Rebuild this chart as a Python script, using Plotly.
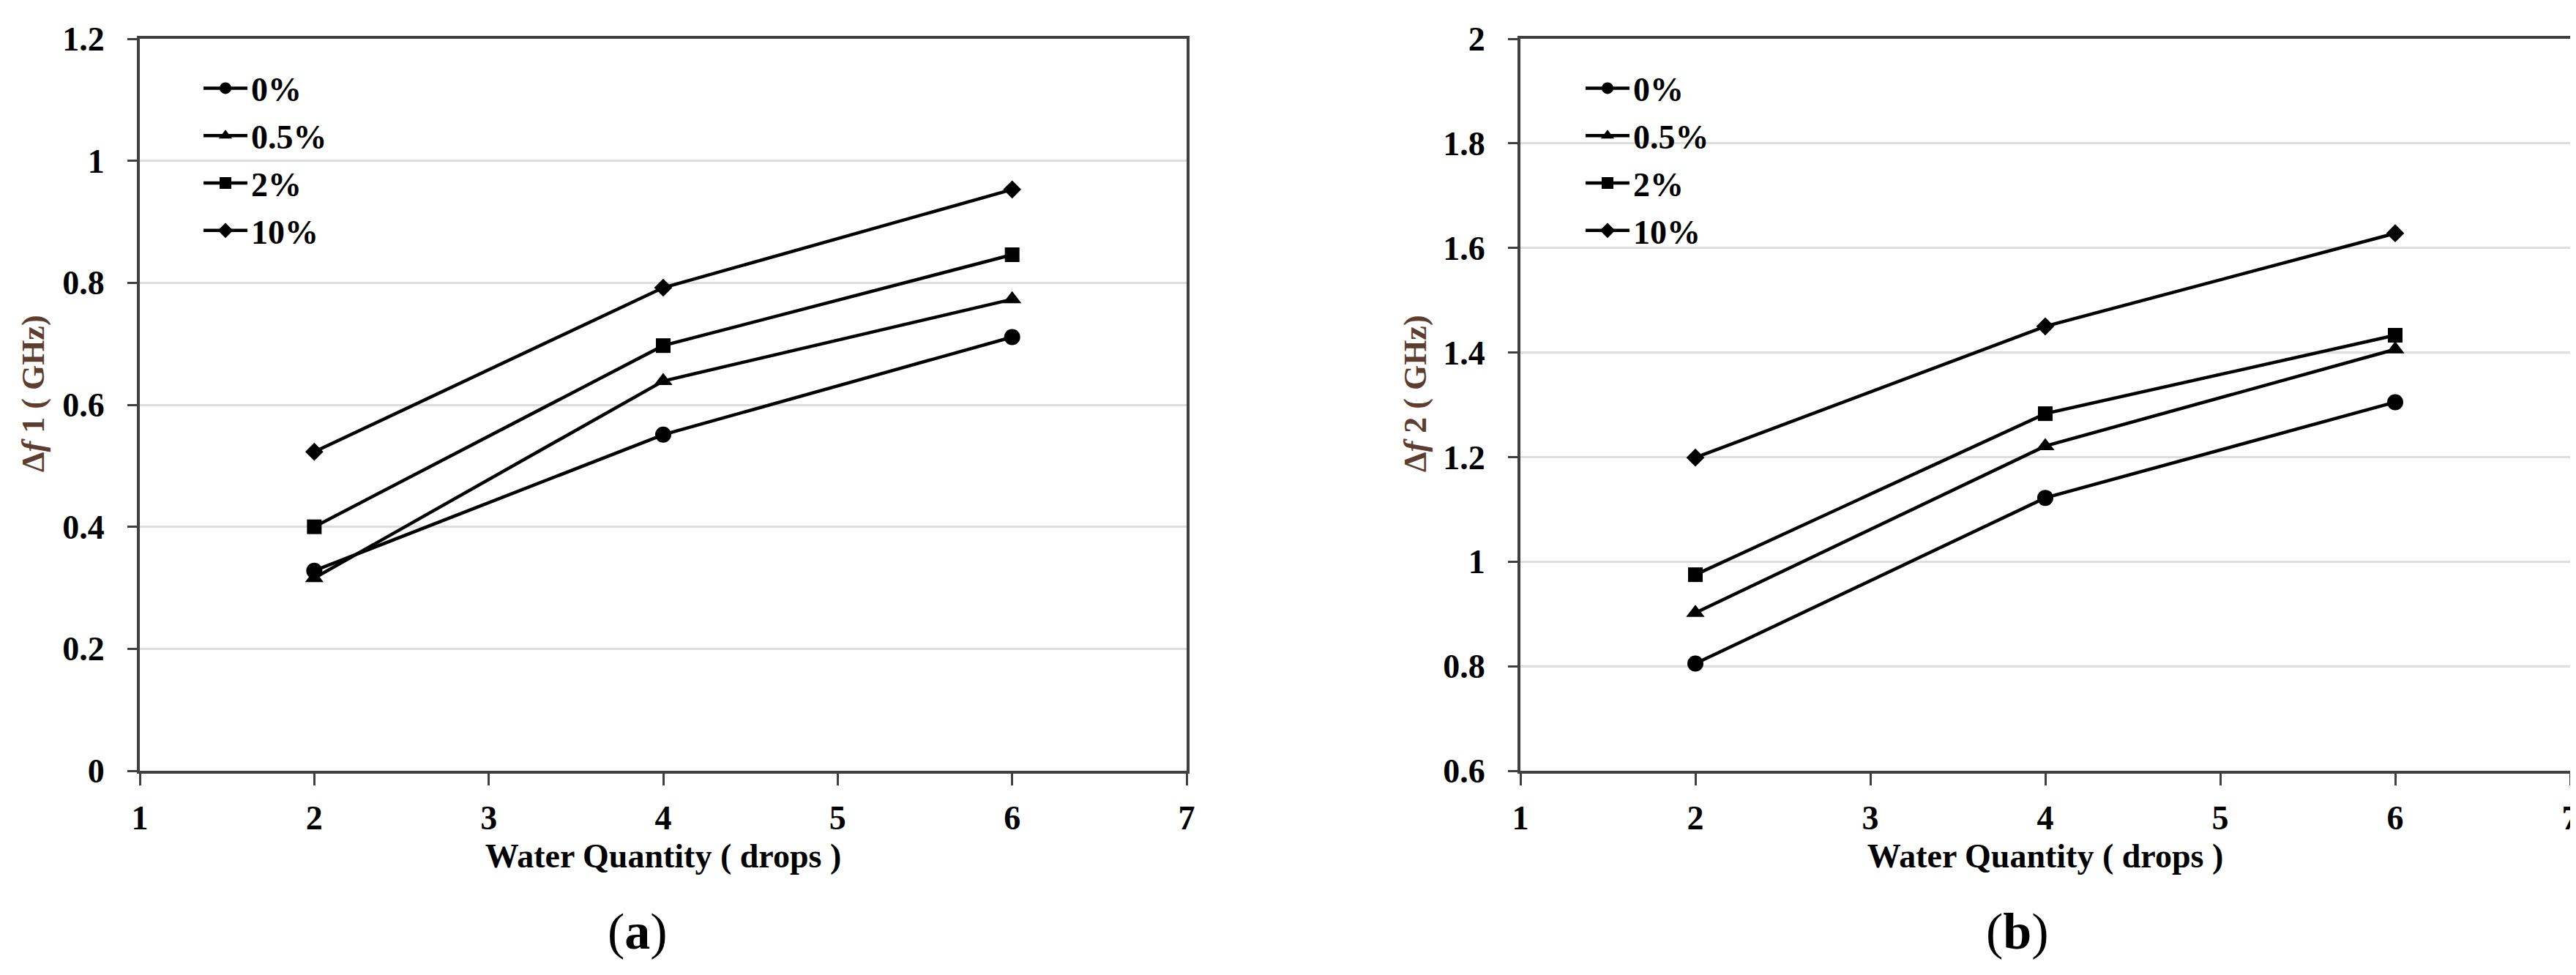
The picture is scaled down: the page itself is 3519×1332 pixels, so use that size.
import plotly.graph_objects as go

# ---------------- data ----------------
drops = [2, 4, 6]
series_names = ["0%", "0.5%", "2%", "10%"]
series_symbols = ["circle", "triangle-up", "square", "diamond"]
series_sizes = [22, 22, 20, 19]

df1_0 = [0.328, 0.551, 0.711]
df1_05 = [0.316, 0.639, 0.773]
df1_2 = [0.400, 0.697, 0.846]
df1_10 = [0.523, 0.792, 0.953]

df2_0 = [0.805, 1.122, 1.305]
df2_05 = [0.902, 1.221, 1.406]
df2_2 = [0.975, 1.283, 1.433]
df2_10 = [1.199, 1.450, 1.628]

x_ticks = [1, 2, 3, 4, 5, 6, 7]
y1_ticks = [0, 0.2, 0.4, 0.6, 0.8, 1, 1.2]
y2_ticks = [0.6, 0.8, 1, 1.2, 1.4, 1.6, 1.8, 2]

panel_a = [df1_0, df1_05, df1_2, df1_10]
panel_b = [df2_0, df2_05, df2_2, df2_10]

W, H = 3519, 1332
FONT = "Liberation Serif"
AX = "#404040"

fig = go.Figure()

for i, (name, sym, sz) in enumerate(zip(series_names, series_symbols, series_sizes)):
    fig.add_trace(go.Scatter(
        x=drops, y=panel_a[i], name=name, mode="lines+markers",
        line=dict(color="black", width=4.5),
        marker=dict(symbol=sym, size=sz, color="black"),
        xaxis="x", yaxis="y", legend="legend", legendgroup=f"a{i}",
    ))
for i, (name, sym, sz) in enumerate(zip(series_names, series_symbols, series_sizes)):
    fig.add_trace(go.Scatter(
        x=drops, y=panel_b[i], name=name, mode="lines+markers",
        line=dict(color="black", width=4.5),
        marker=dict(symbol=sym, size=sz, color="black"),
        xaxis="x2", yaxis="y2", legend="legend2", legendgroup=f"b{i}",
    ))

tickfont = dict(family=FONT, size=46, color="black", weight="bold")
titlefont = dict(family=FONT, size=46, color="black", weight="bold")

def xaxis(domain, anchor):
    return dict(
        domain=domain, anchor=anchor, range=[1, 7], tickvals=x_ticks,
        ticks="outside", ticklen=16, tickwidth=3, tickcolor=AX,
        showline=True, linecolor=AX, linewidth=4, mirror=True,
        showgrid=False, zeroline=False, tickfont=tickfont,
        ticklabelstandoff=5, automargin=False,
        title=dict(text="Water Quantity ( drops )", font=titlefont, standoff=12),
    )

def yaxis(domain, anchor, rng, tv):
    return dict(
        domain=domain, anchor=anchor, range=rng, tickvals=tv,
        ticks="outside", ticklen=13, tickwidth=3, tickcolor=AX,
        showline=True, linecolor=AX, linewidth=4, mirror=True,
        showgrid=True, gridcolor="#dedede", gridwidth=3, zeroline=False,
        tickfont=tickfont, ticklabelstandoff=22, automargin=False,
    )

ydom = [1 - 1045 / H, 1 - 45 / H]
xdom1 = [183 / W, 1613 / W]
xdom2 = [2069 / W, 3503 / W]

legend_common = dict(
    xanchor="left", yanchor="top", bgcolor="rgba(0,0,0,0)",
    font=dict(family=FONT, size=46, color="black", weight="bold"),
    itemwidth=60, tracegroupgap=2, borderwidth=0,
)

fig.update_layout(
    width=W, height=H, margin=dict(l=0, r=0, t=0, b=0, autoexpand=False),
    paper_bgcolor="white", plot_bgcolor="white",
    showlegend=True,
    xaxis=xaxis(xdom1, "y"),
    yaxis=yaxis(ydom, "x", [0, 1.2], y1_ticks),
    xaxis2=xaxis(xdom2, "y2"),
    yaxis2=yaxis(ydom, "x2", [0.6, 2], y2_ticks),
    legend=dict(x=265 / W, y=1 - 76 / H, **legend_common),
    legend2=dict(x=2153 / W, y=1 - 76 / H, **legend_common),
    annotations=[
        dict(text="Δ<i>f</i> 1 ( GHz)", textangle=-90, x=37 / W, y=1 - 530 / H,
             xref="paper", yref="paper", showarrow=False, xanchor="center", yanchor="middle",
             font=dict(family=FONT, size=44, color="#5c3d2e", weight="bold")),
        dict(text="Δ<i>f</i> 2 ( GHz)", textangle=-90, x=1925 / W, y=1 - 530 / H,
             xref="paper", yref="paper", showarrow=False, xanchor="center", yanchor="middle",
             font=dict(family=FONT, size=44, color="#5c3d2e", weight="bold")),
        dict(text="(<b>a</b>)", x=863 / W, y=1 - 1264 / H, xref="paper", yref="paper",
             showarrow=False, xanchor="center", yanchor="middle",
             font=dict(family=FONT, size=70, color="black")),
        dict(text="(<b>b</b>)", x=2748 / W, y=1 - 1264 / H, xref="paper", yref="paper",
             showarrow=False, xanchor="center", yanchor="middle",
             font=dict(family=FONT, size=70, color="black")),
    ],
)

fig.write_html("out.html")
